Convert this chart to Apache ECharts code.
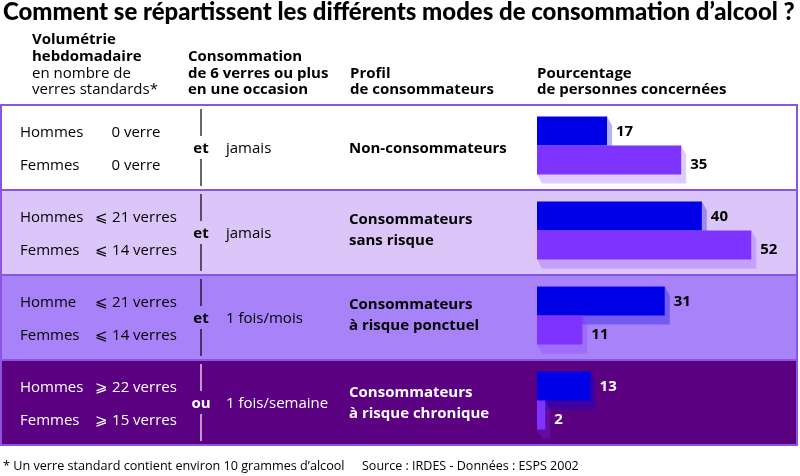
<!DOCTYPE html>
<html><head><meta charset="utf-8">
<script src="https://cdn.jsdelivr.net/npm/echarts@6/dist/echarts.min.js"></script>
<style>html,body{margin:0;padding:0;background:#fff}#c{width:800px;height:476px}</style>
</head><body><div id="c"></div>
<script>
// ---- data ----
const titleText = 'Comment se répartissent les différents modes de consommation d’alcool ?';
const profiles = ['Non-consommateurs', 'Consommateurs\nsans risque', 'Consommateurs\nà risque ponctuel', 'Consommateurs\nà risque chronique'];
const hommes = [17, 40, 31, 13];
const femmes = [35, 52, 11, 2];
const menLabels = ['Hommes', 'Hommes', 'Homme', 'Hommes'];
const womenLabels = ['Femmes', 'Femmes', 'Femmes', 'Femmes'];
const menVolume = ['0 verre', '⩽ 21 verres', '⩽ 21 verres', '⩾ 22 verres'];
const womenVolume = ['0 verre', '⩽ 14 verres', '⩽ 14 verres', '⩾ 15 verres'];
const connectors = ['et', 'et', 'et', 'ou'];
const bingeFreq = ['jamais', 'jamais', '1 fois/mois', '1 fois/semaine'];
const footNote = '* Un verre standard contient environ 10 grammes d’alcool';
const sourceText = 'Source : IRDES - Données : ESPS 2002';

// ---- styles ----
const FF = '"Open Sans", "Noto Sans", sans-serif';
const TF = 'Lato, "Open Sans", sans-serif';
const rowBg = ['#ffffff', '#dcc5f8', '#a882f8', '#5a0080'];
const rowText = ['#000000', '#000000', '#000000', '#ffffff'];
const borderColor = '#8a55e6';
const menColor = '#0000e6', menShadow = 'rgba(0,0,230,0.3)';
const womenColor = '#7f33ff', womenShadow = 'rgba(127,51,255,0.25)';

const ROW_TOP = 105, ROW_H = 85;

function fitSize(text, weight, target, base, fam) {
  const c = document.createElement('canvas').getContext('2d');
  c.font = weight + ' ' + base + 'px ' + (fam || FF);
  const w = c.measureText(text).width;
  return base * target / w;
}

function txt(text, x, y, opt) {
  opt = opt || {};
  const size = opt.size || 15;
  const weight = opt.weight || (opt.bold ? 'bold' : 'normal');
  return {
    type: 'text', z: 100, silent: true,
    style: {
      text: text, x: x, y: y,
      font: weight + ' ' + size + 'px ' + (opt.fam || FF),
      fill: opt.color || '#000',
      align: opt.align || 'left', verticalAlign: 'middle',
      textAlign: opt.align || 'left', textVerticalAlign: 'middle'
    }
  };
}

const graphics = [];
// title
const tSize = fitSize(titleText, '900', 792, 22, TF);
graphics.push(txt(titleText, 3, 12, { weight: '900', size: tSize, fam: TF }));
// headers
graphics.push(txt('Volumétrie', 32, 40, { bold: true }));
graphics.push(txt('hebdomadaire', 32, 57, { bold: true }));
graphics.push(txt('en nombre de', 32, 74));
graphics.push(txt('verres standards*', 32, 90));
graphics.push(txt('Consommation', 188, 57, { bold: true }));
graphics.push(txt('de 6 verres ou plus', 188, 74, { bold: true }));
graphics.push(txt('en une occasion', 188, 90, { bold: true }));
graphics.push(txt('Profil', 350, 74, { bold: true }));
graphics.push(txt('de consommateurs', 350, 90, { bold: true }));
graphics.push(txt('Pourcentage', 537, 74, { bold: true }));
graphics.push(txt('de personnes concernées', 537, 90, { bold: true }));

// rows
for (let i = 0; i < profiles.length; i++) {
  const top = ROW_TOP + ROW_H * i;
  const col = rowText[i];
  graphics.push({
    type: 'rect', z: -10, silent: true,
    shape: { x: 1, y: top, width: 796, height: ROW_H },
    style: { fill: rowBg[i], stroke: borderColor, lineWidth: 2 }
  });
  const yM = top + 28, yF = top + 61, yC = top + 44;
  graphics.push(txt(menLabels[i], 20, yM, { color: col }));
  graphics.push(txt(womenLabels[i], 20, yF, { color: col }));
  graphics.push(txt(menVolume[i], 136, yM, { color: col, align: 'center' }));
  graphics.push(txt(womenVolume[i], 136, yF, { color: col, align: 'center' }));
  graphics.push(txt(connectors[i], 201, yC, { color: col, align: 'center', bold: true }));
  graphics.push(txt(bingeFreq[i], 226, yC, { color: col }));
  graphics.push({ type: 'line', z: 100, silent: true, shape: { x1: 201, y1: top + 4, x2: 201, y2: yC - 13 }, style: { stroke: col, lineWidth: 1.2 } });
  graphics.push({ type: 'line', z: 100, silent: true, shape: { x1: 201, y1: yC + 10, x2: 201, y2: top + ROW_H - 4 }, style: { stroke: col, lineWidth: 1.2 } });
  const lines = profiles[i].split('\n');
  if (lines.length === 1) {
    graphics.push(txt(lines[0], 349, yC, { color: col, bold: true }));
  } else {
    const off = i === 3 ? 3 : 0;
    graphics.push(txt(lines[0], 349, top + 30 + off, { color: col, bold: true }));
    graphics.push(txt(lines[1], 349, top + 51 + off, { color: col, bold: true }));
  }
}
// footer
graphics.push(txt(footNote, 3, 466, { size: fitSize(footNote, 'normal', 342, 14) }));
graphics.push(txt(sourceText, 362, 466, { size: fitSize(sourceText, 'normal', 217, 14) }));

function makeRender(isMen) {
  return function (params, api) {
    const val = api.value(0), cat = api.value(1);
    const c0 = api.coord([0, cat]);
    const c1 = api.coord([val, cat]);
    const h = 29, dx = 5, dy = 9;
    const cy = c0[1];
    const y0 = isMen ? cy - h : cy;
    const y1 = y0 + h;
    const x0 = c0[0], x1 = c1[0];
    const color = isMen ? menColor : womenColor;
    const shadow = isMen ? menShadow : womenShadow;
    return {
      type: 'group',
      children: [
        { type: 'polygon', shape: { points: [[x1, y0], [x1 + dx, y0 + dy], [x1 + dx, y1 + dy], [x0 + dx, y1 + dy], [x0, y1]] }, style: { fill: shadow } },
        { type: 'rect', shape: { x: x0, y: y0, width: x1 - x0, height: h }, style: { fill: color } },
        { type: 'text', style: { text: String(val), x: x1 + 9, y: isMen ? y0 + h / 2 + 1 : y0 + h / 2 + 5, font: 'bold 15px ' + FF, fill: rowText[cat], align: 'left', verticalAlign: 'middle', textAlign: 'left', textVerticalAlign: 'middle' } }
      ]
    };
  };
}

const chart = echarts.init(document.getElementById('c'), null, { renderer: 'canvas' });
chart.setOption({
  animation: false,
  backgroundColor: '#ffffff',
  grid: { left: 537, top: 103, height: 340, right: 800 - 537 - 60 * 4.12 },
  xAxis: { type: 'value', min: 0, max: 60, show: false },
  yAxis: { type: 'category', data: profiles, inverse: true, show: false },
  graphic: { elements: graphics },
  series: [
    { type: 'custom', name: 'Hommes', renderItem: makeRender(true), data: hommes.map((v, i) => [v, i]), encode: { x: 0, y: 1 }, z: 5 },
    { type: 'custom', name: 'Femmes', renderItem: makeRender(false), data: femmes.map((v, i) => [v, i]), encode: { x: 0, y: 1 }, z: 6 }
  ]
});
</script>
</body></html>
